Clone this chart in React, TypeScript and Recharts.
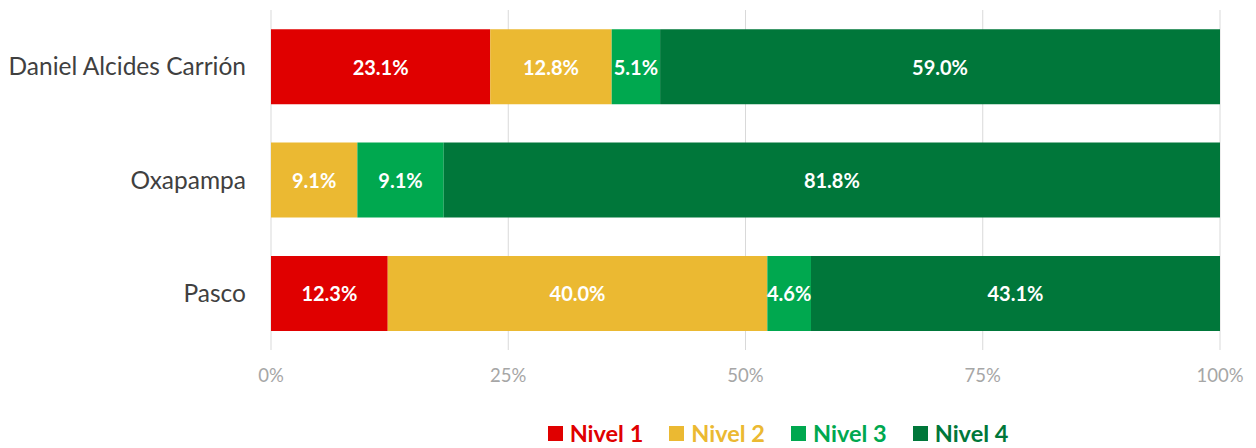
import React from 'react';
import {
  BarChart,
  Bar,
  XAxis,
  YAxis,
  CartesianGrid,
  Legend,
  LabelList,
} from 'recharts';

const categories = ['Daniel Alcides Carrión', 'Oxapampa', 'Pasco'];
const nivel1 = [23.1, 0, 12.3];
const nivel2 = [12.8, 9.1, 40.0];
const nivel3 = [5.1, 9.1, 4.6];
const nivel4 = [59.0, 81.8, 43.1];
const xTicks = [0, 25, 50, 75, 100];

const series = [
  { key: 'n1', name: 'Nivel 1', color: '#E00000' },
  { key: 'n2', name: 'Nivel 2', color: '#EBB932' },
  { key: 'n3', name: 'Nivel 3', color: '#00A84F' },
  { key: 'n4', name: 'Nivel 4', color: '#00773A' },
];

const data = categories.map((name, i) => ({
  name,
  n1: nivel1[i],
  n2: nivel2[i],
  n3: nivel3[i],
  n4: nivel4[i],
}));

const FONT = 'Lato, "Open Sans", sans-serif';

const renderLabel = (props: any) => {
  const { x, y, width, height, value } = props;
  if (!value) return null;
  return (
    <text
      x={x + width / 2}
      y={y + height / 2}
      fill="#fff"
      fontSize={20}
      fontWeight={700}
      fontFamily={FONT}
      textAnchor="middle"
      dominantBaseline="central"
    >
      {`${Number(value).toFixed(1)}%`}
    </text>
  );
};

const renderLegend = () => (
  <div style={{ display: 'flex', justifyContent: 'center', gap: 26, fontFamily: FONT }}>
    {series.map((s) => (
      <div key={s.key} style={{ display: 'flex', alignItems: 'center' }}>
        <span style={{ width: 15, height: 15, background: s.color, marginRight: 7 }} />
        <span style={{ color: s.color, fontWeight: 700, fontSize: 23.5 }}>{s.name}</span>
      </div>
    ))}
  </div>
);

const App: React.FC = () => {
  return (
    <div style={{ position: 'absolute', left: 0, top: 0, background: '#fff' }}>
      <BarChart
        width={1256}
        height={448}
        data={data}
        layout="vertical"
        barCategoryGap="17%"
        margin={{ top: 10, right: 36, left: 0, bottom: 68 }}
      >
        <CartesianGrid horizontal={false} stroke="#D9D9D9" />
        <XAxis
          type="number"
          domain={[0, 100]}
          ticks={xTicks}
          tickFormatter={(v) => `${v}%`}
          axisLine={false}
          tickLine={false}
          tickSize={0}
          tickMargin={19}
          height={30}
          tick={{ fill: '#A6A6A6', fontSize: 18.5, fontFamily: FONT }}
        />
        <YAxis
          type="category"
          dataKey="name"
          width={271}
          axisLine={false}
          tickLine={false}
          tickSize={0}
          tickMargin={25}
          tick={{ fill: '#404040', fontSize: 24.5, fontFamily: FONT, fontWeight: 400 }}
        />
        <Legend
          layout="horizontal"
          verticalAlign="middle"
          content={renderLegend}
          wrapperStyle={{ top: 419, left: 150, width: 1256 }}
        />
        {series.map((s) => (
          <Bar
            key={s.key}
            dataKey={s.key}
            name={s.name}
            stackId="a"
            fill={s.color}
            isAnimationActive={false}
          >
            <LabelList dataKey={s.key} content={renderLabel} />
          </Bar>
        ))}
      </BarChart>
    </div>
  );
};

export default App;
